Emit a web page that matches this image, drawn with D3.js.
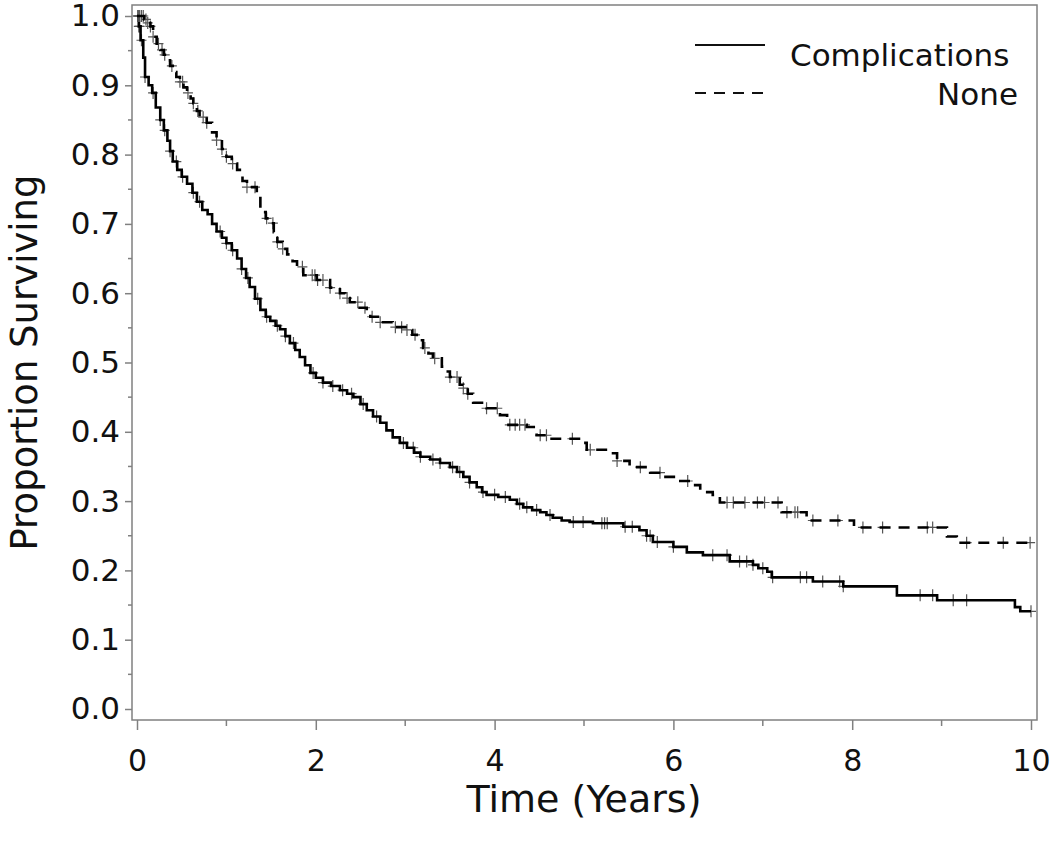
<!DOCTYPE html>
<html>
<head>
<meta charset="utf-8">
<script src="https://cdn.jsdelivr.net/npm/d3@7"></script>
<style>
  html, body { margin: 0; padding: 0; background: #fff; }
  svg { display: block; font-family: "DejaVu Sans", sans-serif; }
</style>
</head>
<body>
<svg id="chart" width="1050" height="849"></svg>
<script>
const xTicks = [0, 2, 4, 6, 8, 10];
const xMinorTicks = [1, 3, 5, 7, 9];
const yTicks = [0, 0.1, 0.2, 0.3, 0.4, 0.5, 0.6, 0.7, 0.8, 0.9, 1.0];
const yMinorTicks = [0.05, 0.15, 0.25, 0.35, 0.45, 0.55, 0.65, 0.75, 0.85, 0.95];
const seriesNames = ['Complications', 'None'];
const followUpEnd = 10;

// Complications: event times (years) and survival after each step
const complicationsTimes = [
  0, 0.02, 0.04, 0.07, 0.09, 0.13, 0.17, 0.21, 0.26, 0.30, 0.34, 0.37, 0.40, 0.45, 0.50,
  0.56, 0.62, 0.67, 0.73, 0.79, 0.84, 0.89, 0.95, 1.00, 1.06, 1.12, 1.17, 1.22, 1.26,
  1.32, 1.38, 1.44, 1.49, 1.55, 1.60, 1.66, 1.71, 1.77, 1.82, 1.88, 1.94, 2.00, 2.08,
  2.17, 2.27, 2.35, 2.42, 2.50, 2.57, 2.64, 2.72, 2.79, 2.86, 2.94, 3.02, 3.10, 3.17,
  3.28, 3.39, 3.50, 3.58, 3.65, 3.72, 3.80, 3.86, 3.91, 4.04, 4.17, 4.25, 4.32, 4.42,
  4.51, 4.58, 4.65, 4.75, 4.84, 5.10, 5.44, 5.62, 5.70, 5.77, 6.00, 6.15, 6.33, 6.63,
  6.89, 6.95, 7.05, 7.10, 7.56, 7.90, 8.50, 8.95, 9.82, 9.88,
];
const complicationsSurv = [
  1.0, 0.985, 0.965, 0.94, 0.912, 0.90, 0.889, 0.868, 0.85, 0.835, 0.82, 0.805, 0.79, 0.778, 0.768,
  0.758, 0.745, 0.732, 0.72, 0.714, 0.70, 0.689, 0.68, 0.672, 0.662, 0.65, 0.635, 0.622, 0.609,
  0.592, 0.576, 0.566, 0.56, 0.553, 0.548, 0.538, 0.528, 0.518, 0.508, 0.496, 0.485, 0.478, 0.471,
  0.466, 0.46, 0.455, 0.45, 0.44, 0.431, 0.422, 0.413, 0.402, 0.392, 0.384, 0.377, 0.37, 0.364,
  0.36, 0.355, 0.349, 0.342, 0.335, 0.327, 0.32, 0.313, 0.309, 0.306, 0.302, 0.296, 0.291, 0.287,
  0.284, 0.28, 0.276, 0.272, 0.27, 0.268, 0.263, 0.258, 0.25, 0.241, 0.234, 0.226, 0.222, 0.213,
  0.208, 0.203, 0.198, 0.19, 0.184, 0.177, 0.164, 0.157, 0.147, 0.141,
];
const complicationsCensored = [
  0.01, 0.02, 0.03, 0.05, 0.09, 0.18, 0.26, 0.31, 0.37, 0.44, 0.51, 0.63, 0.70, 0.93, 1.00,
  1.07, 1.17, 1.24, 1.35, 1.45, 1.57, 1.66, 1.75, 1.97, 2.08, 2.19, 2.30, 2.40, 2.53, 2.68,
  2.98, 3.09, 3.17, 3.31, 3.39, 3.53, 3.61, 3.72, 3.87, 4.00, 4.12, 4.28, 4.36, 4.47, 4.62,
  4.88, 4.99, 5.20, 5.23, 5.26, 5.46, 5.54, 5.70, 5.74, 5.82, 6.00, 6.44, 6.60, 6.74, 6.82,
  6.89, 7.00, 7.11, 7.42, 7.49, 7.67, 7.86, 7.90, 8.76, 8.90, 9.13, 9.28, 10.0,
];

// None
const noneTimes = [
  0, 0.08, 0.12, 0.15, 0.18, 0.22, 0.26, 0.30, 0.34, 0.37, 0.40, 0.44, 0.48, 0.52, 0.56,
  0.60, 0.63, 0.67, 0.70, 0.78, 0.84, 0.89, 0.95, 1.00, 1.06, 1.12, 1.18, 1.23, 1.34, 1.38,
  1.44, 1.49, 1.53, 1.57, 1.63, 1.68, 1.74, 1.79, 1.86, 2.01, 2.16, 2.27, 2.33, 2.38, 2.49,
  2.57, 2.61, 2.72, 2.86, 3.02, 3.08, 3.13, 3.20, 3.26, 3.31, 3.41, 3.46, 3.50, 3.61, 3.65,
  3.70, 3.76, 3.91, 4.06, 4.14, 4.36, 4.47, 4.62, 5.00, 5.03, 5.26, 5.37, 5.51, 5.74, 5.86,
  6.04, 6.19, 6.30, 6.44, 6.52, 7.21, 7.49, 8.02, 9.06, 9.17,
];
const noneSurv = [
  1.0, 0.995, 0.99, 0.985, 0.97, 0.96, 0.951, 0.944, 0.936, 0.928, 0.919, 0.912, 0.905, 0.897, 0.889,
  0.881, 0.874, 0.863, 0.854, 0.846, 0.832, 0.821, 0.808, 0.797, 0.787, 0.778, 0.762, 0.753, 0.743, 0.717,
  0.708, 0.701, 0.688, 0.674, 0.664, 0.656, 0.646, 0.638, 0.626, 0.619, 0.608, 0.60, 0.593, 0.587, 0.579,
  0.571, 0.566, 0.558, 0.551, 0.547, 0.54, 0.532, 0.521, 0.513, 0.506, 0.494, 0.487, 0.479, 0.468, 0.463,
  0.455, 0.442, 0.434, 0.424, 0.41, 0.407, 0.395, 0.39, 0.384, 0.374, 0.369, 0.358, 0.349, 0.341, 0.335,
  0.329, 0.323, 0.313, 0.309, 0.298, 0.284, 0.272, 0.262, 0.249, 0.24,
];
const noneCensored = [
  0.01, 0.02, 0.03, 0.05, 0.07, 0.10, 0.12, 0.15, 0.18, 0.24, 0.28, 0.31, 0.39, 0.48, 0.51,
  0.57, 0.63, 0.68, 0.74, 0.78, 0.89, 0.95, 1.00, 1.07, 1.23, 1.32, 1.45, 1.52, 1.57, 1.63,
  1.85, 1.96, 1.99, 2.02, 2.08, 2.16, 2.27, 2.35, 2.47, 2.55, 2.63, 2.72, 2.89, 2.96, 3.02,
  3.11, 3.22, 3.33, 3.50, 3.58, 3.65, 3.70, 3.91, 4.03, 4.17, 4.23, 4.28, 4.34, 4.51, 4.58,
  4.87, 5.07, 5.37, 5.63, 5.85, 6.16, 6.60, 6.67, 6.80, 6.94, 7.02, 7.17, 7.27, 7.36, 7.39,
  7.56, 7.84, 8.12, 8.34, 8.84, 8.90, 9.28, 9.69, 9.99,
];

const series = [
  { name: seriesNames[0], times: complicationsTimes, surv: complicationsSurv, censored: complicationsCensored, dash: null },
  { name: seriesNames[1], times: noneTimes, surv: noneSurv, censored: noneCensored, dash: '11,8' },
];

const svg = d3.select('#chart');
const frame = { left: 132, top: 5, right: 1037, bottom: 720 };

const x = d3.scaleLinear().domain([0, 10]).range([137, 1031]);
const y = d3.scaleLinear().domain([0, 1]).range([709, 16]);

const axisColor = '#808080';

// frame
svg.append('rect')
  .attr('x', frame.left)
  .attr('y', frame.top)
  .attr('width', frame.right - frame.left)
  .attr('height', frame.bottom - frame.top)
  .attr('fill', 'none')
  .attr('stroke', axisColor)
  .attr('stroke-width', 1.5);

// y axis
const yAxis = svg.append('g').attr('transform', `translate(${frame.left},0)`);
yAxis.call(d3.axisLeft(y).tickValues(yTicks).tickSize(7).tickPadding(5).tickFormat(d3.format('.1f')))
  .call((g) => g.select('.domain').remove())
  .call((g) => g.selectAll('line').attr('stroke', axisColor).attr('stroke-width', 1.5))
  .call((g) => g.selectAll('text').attr('fill', '#111').attr('font-size', 31).attr('font-family', '"DejaVu Sans", sans-serif'));
yAxis.selectAll('line.minor')
  .data(yMinorTicks)
  .enter()
  .append('line')
  .attr('class', 'minor')
  .attr('x1', -4).attr('x2', 0)
  .attr('y1', (d) => y(d)).attr('y2', (d) => y(d))
  .attr('stroke', axisColor)
  .attr('stroke-width', 1.5);

// x axis
const xAxis = svg.append('g').attr('transform', `translate(0,${frame.bottom})`);
xAxis.call(d3.axisBottom(x).tickValues(xTicks).tickSize(10).tickPadding(20).tickFormat(d3.format('d')))
  .call((g) => g.select('.domain').remove())
  .call((g) => g.selectAll('line').attr('stroke', axisColor).attr('stroke-width', 1.5))
  .call((g) => g.selectAll('text').attr('fill', '#111').attr('font-size', 30).attr('font-family', '"DejaVu Sans", sans-serif'));
xAxis.selectAll('line.minor')
  .data(xMinorTicks)
  .enter()
  .append('line')
  .attr('class', 'minor')
  .attr('x1', (d) => x(d)).attr('x2', (d) => x(d))
  .attr('y1', 0).attr('y2', 6)
  .attr('stroke', axisColor)
  .attr('stroke-width', 1.5);

// axis titles
svg.append('text')
  .attr('x', (x(0) + x(10)) / 2)
  .attr('y', 812)
  .attr('text-anchor', 'middle')
  .attr('font-size', 38)
  .attr('fill', '#111')
  .text('Time (Years)');

svg.append('text')
  .attr('transform', `translate(37,${(y(0) + y(1)) / 2}) rotate(-90)`)
  .attr('text-anchor', 'middle')
  .attr('font-size', 37)
  .attr('fill', '#111')
  .text('Proportion Surviving');

// curves
const survAt = (s, t) => s.surv[Math.max(0, d3.bisectRight(s.times, t) - 1)];

const stepLine = d3.line()
  .x((d) => x(d[0]))
  .y((d) => y(d[1]))
  .curve(d3.curveStepAfter);

const plot = svg.append('g');

series.forEach((s) => {
  const pts = s.times.map((t, i) => [t, s.surv[i]]);
  pts.push([followUpEnd, s.surv[s.surv.length - 1]]);

  plot.append('g')
    .selectAll('path')
    .data(s.censored)
    .enter()
    .append('path')
    .attr('d', (t) => {
      const cx = x(t);
      const cy = y(survAt(s, t));
      return `M${cx - 5},${cy}H${cx + 5}M${cx},${cy - 6}V${cy + 6}`;
    })
    .attr('stroke', '#555')
    .attr('stroke-width', 1.2)
    .attr('fill', 'none');

  plot.append('path')
    .datum(pts)
    .attr('d', stepLine)
    .attr('fill', 'none')
    .attr('stroke', '#000')
    .attr('stroke-width', 2.6)
    .attr('stroke-dasharray', s.dash);
});

// legend
const legendRows = [
  { name: seriesNames[0], dash: null, lineY: 45, textY: 66, anchor: 'start', textX: 790 },
  { name: seriesNames[1], dash: '11,8', lineY: 93, textY: 105, anchor: 'end', textX: 1018 },
];
const legend = svg.append('g');
legendRows.forEach((r) => {
  legend.append('line')
    .attr('x1', 695).attr('x2', 765)
    .attr('y1', r.lineY).attr('y2', r.lineY)
    .attr('stroke', '#111')
    .attr('stroke-width', 2.2)
    .attr('stroke-dasharray', r.dash);
  legend.append('text')
    .attr('x', r.textX)
    .attr('y', r.textY)
    .attr('text-anchor', r.anchor)
    .attr('font-size', 31)
    .attr('fill', '#111')
    .text(r.name);
});
</script>
</body>
</html>
